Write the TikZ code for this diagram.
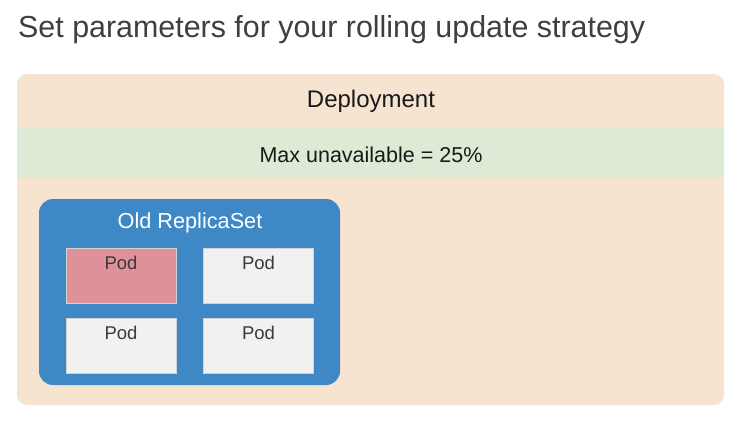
\documentclass[tikz,border=0pt]{standalone}
\usepackage{fontspec}
\setmainfont{Liberation Sans}
\usetikzlibrary{shapes}

\definecolor{deplfill}{HTML}{F6E3D0}
\definecolor{bandfill}{HTML}{DCEAD6}
\definecolor{rsfill}{HTML}{3E88C5}
\definecolor{podfill}{HTML}{F1F1F1}
\definecolor{podbad}{HTML}{DF9199}
\definecolor{podline}{HTML}{D2D2D2}
\definecolor{titlegray}{HTML}{3C4043}
\definecolor{podtext}{HTML}{3A3A3A}

\begin{document}
\begin{tikzpicture}[x=1pt,y=-1pt,
  pod/.style={shape=rectangle,draw=podline,fill=podfill,line width=0.6pt,minimum width=110pt,minimum height=55pt,inner sep=0pt},
  podlabel/.style={font=\fontsize{18.5}{20}\selectfont,text=podtext,anchor=north,yshift=-5pt}]
\useasboundingbox[fill=white] (0,0) rectangle (749,429);

\node[anchor=base west,font=\fontsize{30.4}{34}\selectfont,text=titlegray,inner sep=0pt] (title) at (18,37) {Set parameters for your rolling update strategy};

\node[shape=rectangle,fill=deplfill,rounded corners=10pt,minimum width=707pt,minimum height=331pt,inner sep=0pt] (deployment) at (370.5,239.5) {};
\node[anchor=base,font=\fontsize{24}{26}\selectfont,text=black!90,inner sep=0pt] (depltext) at (371,107) {Deployment};
\node[shape=rectangle,fill=bandfill,minimum width=707pt,minimum height=51pt,inner sep=0pt] (maxunavail) at (370.5,152.5) {};
\node[anchor=base,font=\fontsize{21.5}{24}\selectfont,text=black!90,inner sep=0pt] (maxtext) at (371,162) {Max unavailable = 25\%};

\node[shape=rectangle,fill=rsfill,rounded corners=14pt,minimum width=301pt,minimum height=186pt,inner sep=0pt] (oldrs) at (189.5,292) {};
\node[anchor=base,font=\fontsize{21.7}{24}\selectfont,text=white,inner sep=0pt] (oldrstext) at (190,228) {Old ReplicaSet};

\node[pod,fill=podbad] (pod1) at (121,275.5) {};
\node[pod] (pod2) at (258.5,275.5) {};
\node[pod] (pod3) at (121,345.5) {};
\node[pod] (pod4) at (258.5,345.5) {};
\foreach \p in {pod1,pod2,pod3,pod4}
  \node[podlabel] at (\p.north) {Pod};
\end{tikzpicture}
\end{document}
